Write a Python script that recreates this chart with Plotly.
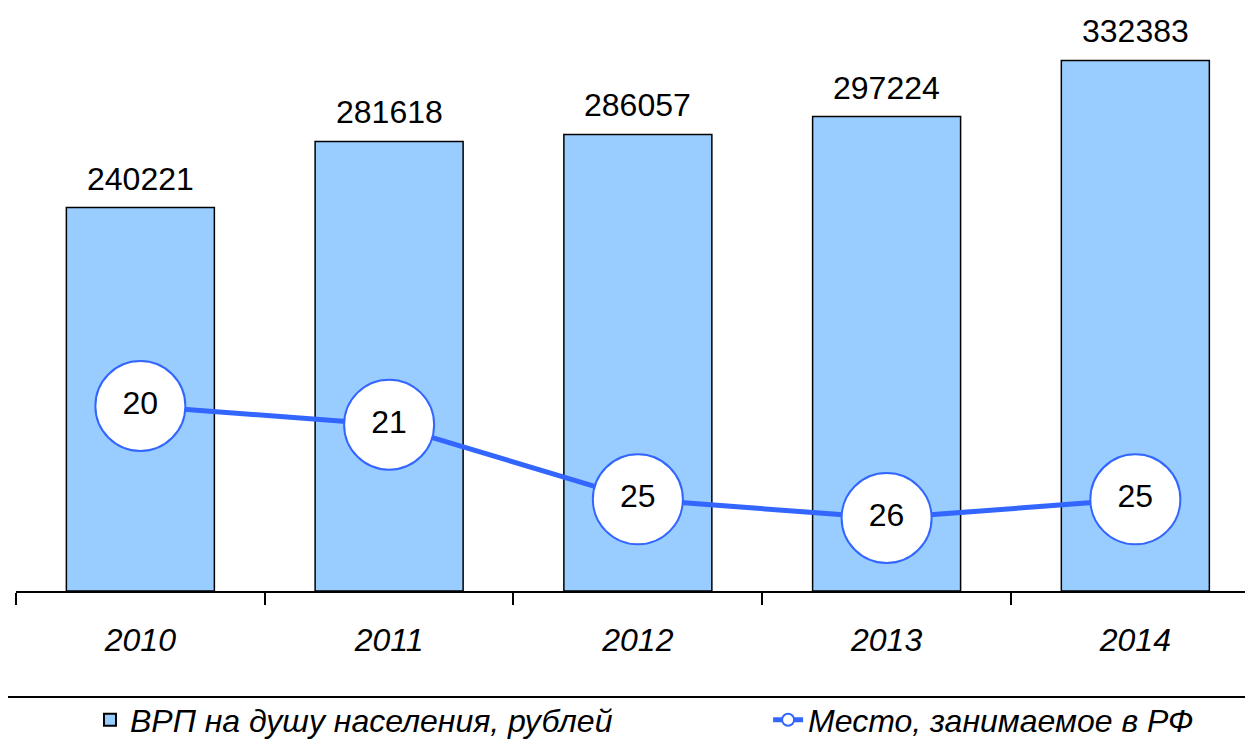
import plotly.graph_objects as go

years = ["2010", "2011", "2012", "2013", "2014"]
grp_per_capita = [240221, 281618, 286057, 297224, 332383]
rank_rf = [20, 21, 25, 26, 25]

bar_name = "ВРП на душу населения, рублей"
line_name = "Место, занимаемое в РФ"

FONT = "Liberation Sans, Arial, sans-serif"
FS = 32

fig = go.Figure()
fig.add_trace(go.Bar(
    x=years, y=grp_per_capita, name=bar_name,
    marker=dict(color="#99CCFF", line=dict(color="#000000", width=1.5)),
    width=0.595, legend="legend",
))
fig.add_trace(go.Scatter(
    x=years, y=rank_rf, name=line_name, yaxis="y2",
    mode="lines+markers+text",
    line=dict(color="#3366FF", width=5),
    marker=dict(size=90, color="#FFFFFF", line=dict(color="#3366FF", width=2)),
    text=[str(v) for v in rank_rf], textposition="middle center",
    textfont=dict(family=FONT, size=FS, color="#000000"),
    cliponaxis=False, legend="legend2",
))

for i, v in enumerate(grp_per_capita):
    fig.add_annotation(
        x=i, y=v, xref="x", yref="y", text=str(v), showarrow=False,
        xanchor="center", yanchor="bottom", yshift=9,
        font=dict(family=FONT, size=FS, color="#000000"),
    )

legend_common = dict(
    orientation="h", yref="container", y=0.030, xanchor="left", yanchor="middle",
    font=dict(family=FONT, size=FS, style="italic", color="#000000"),
    itemsizing="constant", bgcolor="rgba(0,0,0,0)",
)

hidden_axis = dict(showticklabels=False, showline=False, showgrid=False,
                   zeroline=False, ticks="")

fig.update_layout(
    width=1245, height=734,
    margin=dict(l=8, r=0, t=0, b=151, autoexpand=False),
    paper_bgcolor="white", plot_bgcolor="white",
    font=dict(family=FONT, size=FS, color="#000000"),
    xaxis=dict(
        type="category", range=[-0.5, 4.473], automargin=False,
        showline=True, linecolor="#000000", linewidth=1.5,
        ticks="outside", tickson="boundaries", ticklen=12, tickwidth=1.5, tickcolor="#000000",
        tickfont=dict(family=FONT, size=FS, style="italic"),
        ticklabelstandoff=20,
        showgrid=False, zeroline=False,
    ),
    yaxis=dict(range=[0, 365250], automargin=False, **hidden_axis),
    yaxis2=dict(range=[29.91, -1.32], overlaying="y", side="right",
                automargin=False, **hidden_axis),
    showlegend=True,
    legend=dict(x=0.0598, xref="paper", **legend_common),
    legend2=dict(x=0.608, xref="paper", **legend_common),
    shapes=[dict(
        type="rect", xref="paper", yref="paper",
        x0=-0.01455, x1=0.9976, y0=-0.40, y1=-0.1818,
        line=dict(color="#000000", width=2), fillcolor="rgba(0,0,0,0)",
    )],
)

fig.write_html("out.html")
